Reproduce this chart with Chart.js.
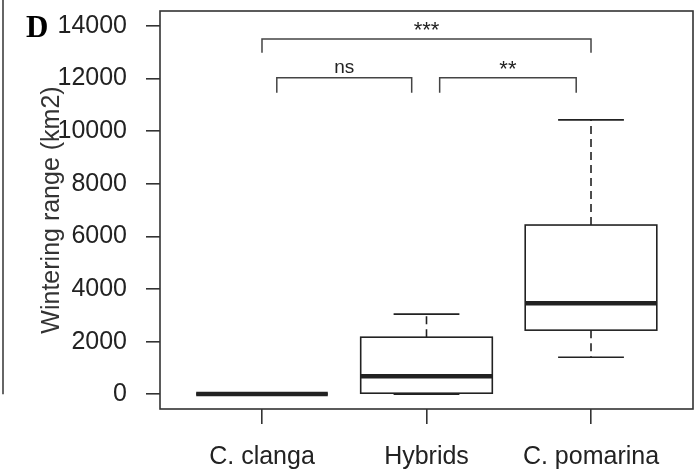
<!DOCTYPE html>
<html>
<head>
<meta charset="utf-8">
<script src="https://cdn.jsdelivr.net/npm/chart.js@4"></script>
<style>
  html, body { margin: 0; padding: 0; background: #fff; }
  #wrap { width: 700px; height: 469px; }
</style>
</head>
<body>
<div id="wrap"><canvas id="boxChart"></canvas></div>
<script>
// boxplot summary values (km2)
const categories = ['C. clanga', 'Hybrids', 'C. pomarina'];
const positions = [1, 2, 3];
const whiskerLow = [10, 0, 1408];
const q1 = [10, 40, 2435];
const median = [10, 685, 3460];
const q3 = [10, 2168, 6429];
const whiskerHigh = [10, 3043, 10424];

const yTicks = [0, 2000, 4000, 6000, 8000, 10000, 12000, 14000];

// significance brackets
const bracketLabels = ['ns', '**', '***'];
const bracketFrom = [1.09, 2.08, 1.0];
const bracketTo = [1.91, 2.91, 3.0];
const bracketTop = [12020, 12020, 13500];
const bracketEnd = [11450, 11450, 12970];

const INK = '#222';
const BOX_HALF = 0.4;
const CAP_HALF = 0.2;

Chart.defaults.font.family = '"Liberation Sans", Arial, sans-serif';
Chart.defaults.color = INK;

const boxPlugin = {
    id: 'boxDraw',
    afterDatasetsDraw(chart) {
        const ctx = chart.ctx;
        const xs = chart.scales.x;
        const ys = chart.scales.y;
        const area = chart.chartArea;
        ctx.save();

        // plot frame
        ctx.strokeStyle = '#333';
        ctx.lineWidth = 1.6;
        ctx.strokeRect(area.left, area.top, area.right - area.left, area.bottom - area.top);

        positions.forEach((p, i) => {
            const xl = xs.getPixelForValue(p - BOX_HALF);
            const xr = xs.getPixelForValue(p + BOX_HALF);
            const xc = xs.getPixelForValue(p);
            const cl = xs.getPixelForValue(p - CAP_HALF);
            const cr = xs.getPixelForValue(p + CAP_HALF);
            const yq1 = ys.getPixelForValue(q1[i]);
            const yq3 = ys.getPixelForValue(q3[i]);
            const ym = ys.getPixelForValue(median[i]);
            const ylo = ys.getPixelForValue(whiskerLow[i]);
            const yhi = ys.getPixelForValue(whiskerHigh[i]);

            ctx.strokeStyle = INK;
            ctx.lineWidth = 1.6;

            // dashed whiskers
            ctx.setLineDash([8, 5]);
            ctx.beginPath();
            ctx.moveTo(xc, yq3); ctx.lineTo(xc, yhi);
            ctx.moveTo(xc, yq1); ctx.lineTo(xc, ylo);
            ctx.stroke();
            ctx.setLineDash([]);

            // caps
            ctx.beginPath();
            ctx.moveTo(cl, yhi); ctx.lineTo(cr, yhi);
            ctx.moveTo(cl, ylo); ctx.lineTo(cr, ylo);
            ctx.stroke();

            // box
            ctx.strokeRect(xl, yq3, xr - xl, yq1 - yq3);

            // median
            ctx.lineWidth = 4.5;
            ctx.beginPath();
            ctx.moveTo(xl, ym); ctx.lineTo(xr, ym);
            ctx.stroke();
        });

        // brackets
        ctx.strokeStyle = '#444';
        ctx.lineWidth = 1.5;
        ctx.fillStyle = INK;
        ctx.textAlign = 'center';
        ctx.textBaseline = 'alphabetic';
        bracketLabels.forEach((lab, i) => {
            const x0 = xs.getPixelForValue(bracketFrom[i]);
            const x1 = xs.getPixelForValue(bracketTo[i]);
            const yt = ys.getPixelForValue(bracketTop[i]);
            const ye = ys.getPixelForValue(bracketEnd[i]);
            ctx.beginPath();
            ctx.moveTo(x0, ye); ctx.lineTo(x0, yt);
            ctx.lineTo(x1, yt); ctx.lineTo(x1, ye);
            ctx.stroke();
            const isStar = lab.indexOf('*') >= 0;
            ctx.font = (isStar ? '22px' : '19px') + ' "Liberation Sans", Arial, sans-serif';
            ctx.fillText(lab, (x0 + x1) / 2, yt - (isStar ? 2 : 5));
        });

        // edge of neighbouring panel and panel letter
        ctx.strokeStyle = '#333';
        ctx.lineWidth = 1.5;
        ctx.beginPath();
        ctx.moveTo(3, 0); ctx.lineTo(3, ys.getPixelForValue(0));
        ctx.stroke();
        ctx.font = 'bold 31px "Liberation Serif", "Times New Roman", serif';
        ctx.textAlign = 'left';
        ctx.fillStyle = '#000';
        ctx.fillText('D', 26, 37);

        ctx.restore();
    }
};

const ctx = document.getElementById('boxChart').getContext('2d');

const boxChart = new Chart(ctx, {
    type: 'scatter',
    data: {
        datasets: [{
            label: 'median',
            data: positions.map((p, i) => ({ x: p, y: median[i] })),
            pointRadius: 0,
            showLine: false
        }]
    },
    options: {
        responsive: true,
        maintainAspectRatio: false,
        animation: false,
        layout: { padding: { top: 11, right: 7, left: 0, bottom: 0 } },
        plugins: {
            legend: { display: false },
            tooltip: { enabled: false }
        },
        scales: {
            x: {
                type: 'linear',
                min: 0.38,
                max: 3.62,
                afterBuildTicks: (scale) => { scale.ticks = positions.map(v => ({ value: v })); },
                afterFit: (scale) => {
                    scale.height = 60;
                    scale.paddingLeft = 0;
                    scale.paddingRight = 0;
                },
                ticks: {
                    autoSkip: false,
                    maxRotation: 0,
                    padding: 18,
                    font: { size: 25 },
                    color: INK,
                    callback: (v) => categories[positions.indexOf(v)]
                },
                grid: {
                    drawOnChartArea: false,
                    drawTicks: true,
                    tickLength: 15,
                    tickColor: '#333',
                    lineWidth: 1.6
                },
                border: { display: false }
            },
            y: {
                min: -560,
                max: 14560,
                afterBuildTicks: (scale) => { scale.ticks = yTicks.map(v => ({ value: v })); },
                afterFit: (scale) => {
                    scale.width = 160;
                    scale.paddingTop = 0;
                    scale.paddingBottom = 0;
                },
                ticks: {
                    padding: 19,
                    font: { size: 25 },
                    color: INK,
                    callback: (v) => String(v)
                },
                grid: {
                    drawOnChartArea: false,
                    drawTicks: true,
                    tickLength: 14,
                    tickColor: '#333',
                    lineWidth: 1.6
                },
                border: { display: false },
                title: {
                    display: true,
                    text: 'Wintering range (km2)',
                    font: { size: 25 },
                    color: '#333',
                    padding: { top: 37, bottom: 0 }
                }
            }
        }
    },
    plugins: [boxPlugin]
});
</script>
</body>
</html>
